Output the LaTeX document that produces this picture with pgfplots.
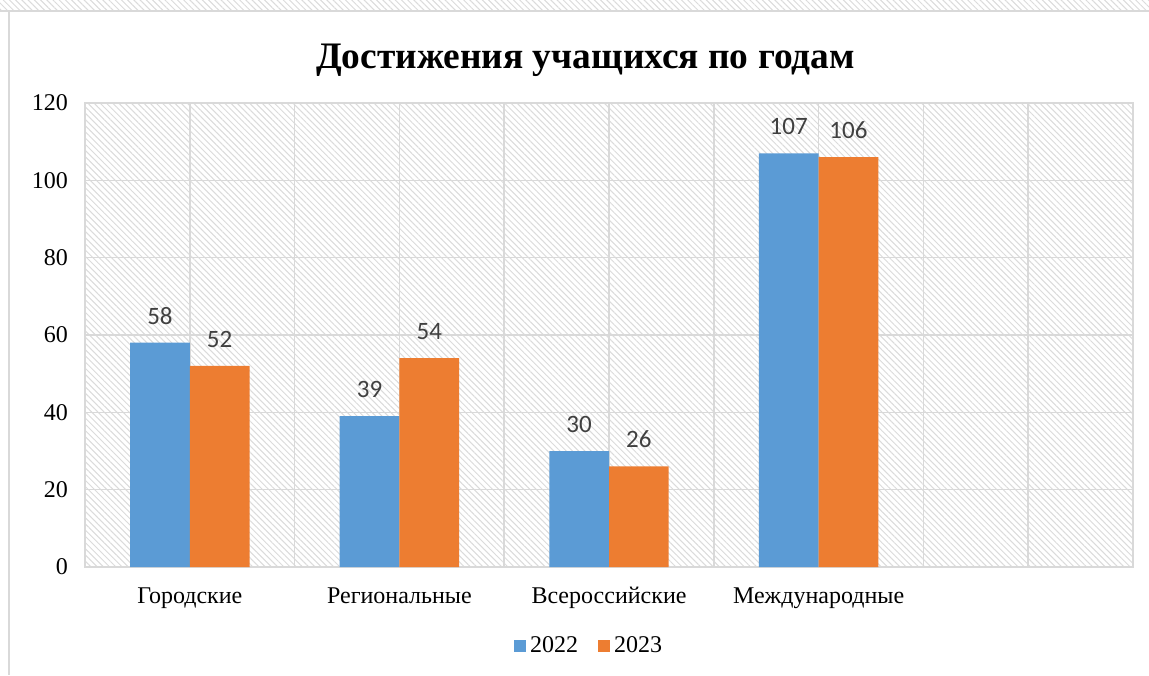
\documentclass[border=0pt]{standalone}
\usepackage{fontspec}
\setmainfont{Liberation Serif}
\newfontfamily\carlito{Carlito}
\usepackage{pgfplots}
\pgfplotsset{compat=1.18}
\usetikzlibrary{patterns.meta}
\definecolor{cblue}{HTML}{5B9BD5}
\definecolor{corange}{HTML}{ED7D31}
\definecolor{gridc}{HTML}{D9D9D9}
\definecolor{lblc}{HTML}{404040}
\begin{document}
\begin{tikzpicture}
\useasboundingbox (0,0) rectangle (574.5pt,337.5pt);
\fill[white] (0,0) rectangle (574.5pt,337.5pt);
\fill[pattern={Lines[angle=-45,distance=2.2pt,line width=0.5pt]},pattern color=black!14] (0,332pt) rectangle (574.5pt,337.5pt);
\draw[gridc,line width=1pt] (0,332pt) -- (574.5pt,332pt);
\draw[gridc,line width=1pt] (4.5pt,332pt) -- (4.5pt,0);
\node[font=\bfseries\fontsize{18.7}{20}\selectfont] at (292.75pt,307.5pt) {Достижения учащихся по годам};
\begin{axis}[
  at={(42.5pt,54pt)}, anchor=south west,
  width=524pt, height=232pt, scale only axis,
  ybar=0pt, bar width=0.285,
  xmin=-0.5, xmax=4.5, ymin=0, ymax=120,
  xtick={0,1,2,3},
  xticklabels={Городские,Региональные,Всероссийские,Международные},
  minor xtick={-0.5,0,0.5,1,1.5,2,2.5,3,3.5,4,4.5},
  ytick={0,20,40,60,80,100,120},
  xminorgrids, ymajorgrids,
  grid style={gridc,line width=0.75pt},
  minor grid style={gridc,line width=0.75pt},
  axis line style={gridc,line width=0.75pt},
  major tick length=0pt, minor tick length=0pt,
  tick style={draw=none},
  /pgf/number format/assume math mode=true,
  ticklabel style={font=\fontsize{12}{14}\selectfont},
  yticklabel style={xshift=-5pt},
  xticklabel style={anchor=base, yshift=-18pt},
  axis background/.style={pattern={Lines[angle=-45,distance=2.2pt,line width=0.5pt]},pattern color=black!14},
  nodes near coords,
  every node near coord/.append style={font=\carlito\fontsize{12.5}{14}\selectfont, text=lblc, anchor=south, inner sep=0pt, yshift=9pt},
  legend style={at={(0.482,-0.170)}, anchor=center, draw=none, fill=none, legend columns=2,
     font=\fontsize{12}{14}\selectfont, inner sep=0pt,
     /tikz/every even column/.append style={column sep=8pt}},
  legend image code/.code={\fill[#1,draw=none] (0pt,-3pt) rectangle (6pt,3pt);},
]
\addplot[fill=cblue,draw=none] coordinates {(0,58) (1,39) (2,30) (3,107)};
\addplot[fill=corange,draw=none] coordinates {(0,52) (1,54) (2,26) (3,106)};
\legend{2022,2023}
\end{axis}
\end{tikzpicture}
\end{document}
